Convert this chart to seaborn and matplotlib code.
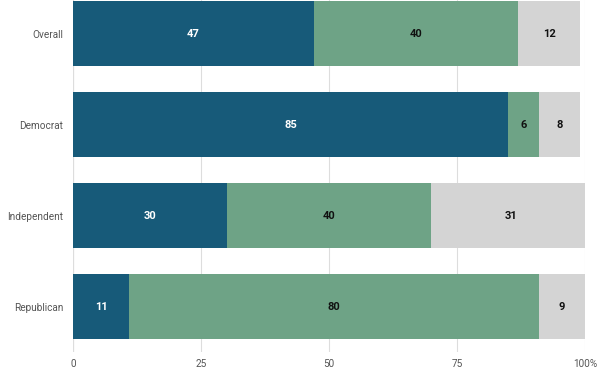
import matplotlib
matplotlib.use("Agg")
import matplotlib.pyplot as plt
import seaborn as sns
import pandas as pd
import numpy as np

categories = ["Overall", "Democrat", "Independent", "Republican"]
series_a = [47, 85, 30, 11]
series_b = [40, 6, 40, 80]
series_c = [12, 8, 31, 9]
x_ticks = [0, 25, 50, 75, 100]
x_tick_labels = ["0", "25", "50", "75", "100%"]

colors = ["#175a79", "#6ea386", "#d4d4d4"]

sns.set_theme(style="white")
plt.rcParams["font.family"] = ["Roboto", "DejaVu Sans"]

fig = plt.figure(figsize=(6.12, 3.74), dpi=100)
ax = fig.add_axes([73 / 612, 1 - 352 / 374, 512 / 612, 352 / 374])

a = np.array(series_a, dtype=float)
b = np.array(series_b, dtype=float)
c = np.array(series_c, dtype=float)
cum1 = a
cum2 = a + b
cum3 = a + b + c

df = pd.DataFrame({"cat": categories, "c1": cum1, "c2": cum2, "c3": cum3})

for col, color in zip(["c3", "c2", "c1"], colors[::-1]):
    sns.barplot(data=df, x=col, y="cat", orient="h", color=color, saturation=1,
                width=0.715, edgecolor="none", linewidth=0, ax=ax)

# labels
for i in range(len(categories)):
    segs = [(0, a[i], series_a[i], "white"),
            (cum1[i], b[i], series_b[i], "#111111"),
            (cum2[i], c[i], series_c[i], "#111111")]
    for start, w, val, tc in segs:
        ax.text(start + w / 2, i, str(val), ha="center", va="center",
                color=tc, fontsize=8, fontweight="bold")

ax.set_xlim(0, 100)
ax.set_ylim(3.5, -0.37)
ax.set_xticks(x_ticks)
ax.set_xticklabels(x_tick_labels)
ax.set_xlabel("")
ax.set_ylabel("")
ax.set_axisbelow(True)
ax.grid(axis="x", color="#dddddd", linewidth=0.8)
for s in ax.spines.values():
    s.set_visible(False)
ax.axvline(0, color="#cccccc", linewidth=0.8, zorder=0.5)
ax.tick_params(axis="both", length=0, labelsize=7.2, colors="#555555")
ax.tick_params(axis="y", pad=7)
ax.tick_params(axis="x", pad=5)

fig.savefig("out.png", dpi=100)
